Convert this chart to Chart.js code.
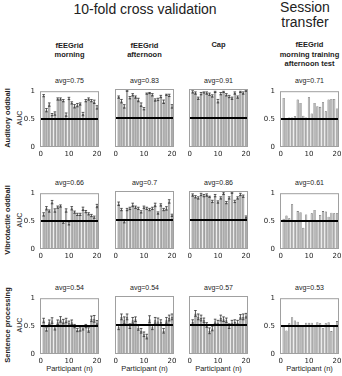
<!DOCTYPE html>
<html>
<head>
<meta charset="utf-8">
<script src="https://cdn.jsdelivr.net/npm/chart.js@4.4.0/dist/chart.umd.min.js"></script>
<style>
  body { margin: 0; background: #fff; width: 342px; height: 376px; position: relative; overflow: hidden;
         font-family: "Liberation Sans", Arial, sans-serif; color: #222; }
  .t { position: absolute; white-space: pre; text-align: center; line-height: 1.15; transform: translate(-50%, -50%); }
  .rot { transform: translate(-50%, -50%) rotate(-90deg); }
  canvas { position: absolute; }
</style>
</head>
<body>
<script>
// ── Data ───────────────────────────────────────────────────────────────────

const participants = [1, 2, 3, 4, 5, 6, 7, 8, 9, 10, 11, 12, 13, 14, 15, 16, 17, 18, 19, 20];
const xTicks = [0, 10, 20];
const yTicks = [0, 0.5, 1];
const chance = 0.5;

const columnTitles = ["fEEGrid\nmorning", "fEEGrid\nafternoon", "Cap", "fEEGrid\nmorning training\nafternoon test"];
const rowTitles = ["Auditory oddball", "Vibrotactile oddball", "Sentence processing"];

const avgAuditory     = [0.75, 0.83, 0.91, 0.71];
const avgVibrotactile = [0.66, 0.7, 0.86, 0.61];
const avgSentence     = [0.54, 0.54, 0.57, 0.53];

// Auditory oddball
const audMorning      = [0.92, 0.66, 0.76, 0.58, 0.60, 0.86, 0.86, 0.83, 0.58, 0.87, 0.79, 0.73, 0.75, 0.77, 0.59, 0.83, 0.86, 0.83, 0.81, 0.71];
const audMorningErr   = [0.02, 0.03, 0.03, 0.02, 0.03, 0.02, 0.02, 0.02, 0.03, 0.02, 0.02, 0.03, 0.03, 0.02, 0.03, 0.02, 0.02, 0.02, 0.03, 0.03];
const audAfternoon    = [0.86, 0.79, 0.70, 0.97, 0.85, 0.90, 0.86, 0.81, 0.73, 0.66, 0.92, 0.93, 0.90, 0.81, 0.82, 0.87, 0.78, 0.90, 0.89, 0.70];
const audAfternoonErr = [0.02, 0.03, 0.03, 0.01, 0.02, 0.02, 0.02, 0.03, 0.03, 0.02, 0.01, 0.01, 0.02, 0.02, 0.02, 0.02, 0.03, 0.01, 0.02, 0.03];
const audCap          = [0.95, 0.93, 0.84, 0.92, 0.94, 0.93, 0.91, 0.88, 0.95, 0.79, 0.92, 0.95, 0.90, 0.87, 0.84, 0.93, 0.86, 0.95, 0.93, 0.97];
const audCapErr       = [0.02, 0.02, 0.02, 0.02, 0.01, 0.02, 0.02, 0.02, 0.01, 0.03, 0.02, 0.01, 0.02, 0.02, 0.02, 0.02, 0.02, 0.01, 0.02, 0.01];
const audTransfer     = [0.88, 0.49, 0.53, 0.53, 0.55, 0.85, 0.79, 0.56, 0.53, 0.89, 0.60, 0.79, 0.73, 0.72, 0.80, 0.64, 0.85, 0.86, 0.86, 0.69];

// Vibrotactile oddball
const vibMorning      = [0.62, 0.73, 0.68, 0.84, 0.69, 0.75, 0.77, 0.48, 0.69, 0.45, 0.73, 0.66, 0.62, 0.62, 0.72, 0.67, 0.63, 0.60, 0.57, 0.77];
const vibMorningErr   = [0.03, 0.03, 0.02, 0.03, 0.03, 0.02, 0.02, 0.02, 0.03, 0.02, 0.03, 0.02, 0.02, 0.02, 0.03, 0.02, 0.02, 0.02, 0.02, 0.03];
const vibAfternoon    = [0.78, 0.68, 0.48, 0.68, 0.70, 0.76, 0.72, 0.70, 0.64, 0.72, 0.70, 0.68, 0.70, 0.76, 0.62, 0.76, 0.68, 0.70, 0.82, 0.58];
const vibAfternoonErr = [0.03, 0.02, 0.03, 0.02, 0.02, 0.03, 0.02, 0.02, 0.02, 0.02, 0.02, 0.02, 0.02, 0.03, 0.02, 0.02, 0.02, 0.03, 0.03, 0.02];
const vibCap          = [0.93, 0.90, 0.88, 0.94, 0.92, 0.93, 0.90, 0.82, 0.92, 0.81, 0.88, 0.96, 0.80, 0.88, 0.97, 0.82, 0.88, 0.94, 0.91, 0.55];
const vibCapErr       = [0.02, 0.02, 0.02, 0.02, 0.02, 0.02, 0.01, 0.02, 0.02, 0.02, 0.02, 0.02, 0.02, 0.02, 0.01, 0.02, 0.02, 0.02, 0.02, 0.02];
const vibTransfer     = [0.54, 0.60, 0.55, 0.80, 0.51, 0.68, 0.66, 0.38, 0.62, 0.51, 0.64, 0.70, 0.50, 0.61, 0.68, 0.67, 0.58, 0.65, 0.64, 0.64];

// Sentence processing
const senMorning      = [0.60, 0.44, 0.57, 0.60, 0.46, 0.57, 0.62, 0.58, 0.60, 0.55, 0.57, 0.50, 0.43, 0.44, 0.47, 0.50, 0.43, 0.63, 0.63, 0.56];
const senMorningErr   = [0.04, 0.03, 0.04, 0.05, 0.03, 0.04, 0.05, 0.04, 0.04, 0.04, 0.04, 0.03, 0.03, 0.03, 0.04, 0.03, 0.04, 0.05, 0.06, 0.04];
const senAfternoon    = [0.46, 0.64, 0.58, 0.64, 0.48, 0.58, 0.60, 0.45, 0.40, 0.34, 0.30, 0.60, 0.46, 0.58, 0.56, 0.55, 0.40, 0.58, 0.62, 0.64];
const senAfternoonErr = [0.04, 0.05, 0.06, 0.05, 0.04, 0.05, 0.04, 0.04, 0.04, 0.04, 0.04, 0.06, 0.04, 0.05, 0.06, 0.04, 0.04, 0.05, 0.05, 0.05];
const senCap          = [0.55, 0.70, 0.64, 0.62, 0.58, 0.50, 0.40, 0.44, 0.56, 0.54, 0.62, 0.60, 0.58, 0.48, 0.54, 0.55, 0.54, 0.64, 0.64, 0.66];
const senCapErr       = [0.04, 0.05, 0.05, 0.05, 0.04, 0.04, 0.05, 0.04, 0.04, 0.04, 0.05, 0.04, 0.04, 0.04, 0.04, 0.04, 0.04, 0.04, 0.05, 0.04];
const senTransfer     = [0.50, 0.42, 0.55, 0.66, 0.60, 0.58, 0.50, 0.50, 0.56, 0.56, 0.56, 0.50, 0.57, 0.55, 0.46, 0.55, 0.57, 0.41, 0.50, 0.59];

const panels = [
  [[audMorning, audMorningErr], [audAfternoon, audAfternoonErr], [audCap, audCapErr], [audTransfer, null]],
  [[vibMorning, vibMorningErr], [vibAfternoon, vibAfternoonErr], [vibCap, vibCapErr], [vibTransfer, null]],
  [[senMorning, senMorningErr], [senAfternoon, senAfternoonErr], [senCap, senCapErr], [senTransfer, null]],
];
const avgs = [avgAuditory, avgVibrotactile, avgSentence];

// ── Layout ─────────────────────────────────────────────────────────────────

const COL_X = [40, 115, 189, 280];
const ROW_Y = [89, 191, 296];
const PW = 59, PH = 58;
const L = 22, T = 7, R = 8, B = 14;

function label(text, x, y, css, rotate) {
  const el = document.createElement("div");
  el.className = "t" + (rotate ? " rot" : "");
  el.textContent = text;
  el.style.cssText += `left:${x}px;top:${y}px;${css}`;
  document.body.appendChild(el);
}

label("10-fold cross validation", 145, 9, "font-size:14px;");
label("Session\ntransfer", 305, 15, "font-size:14px;line-height:15px;");

columnTitles.forEach((t, c) => {
  const lines = t.split("\n").length;
  label(t, COL_X[c] + PW / 2, 45 + (lines - 1) * 4.5, "font-size:7.5px;font-weight:bold;line-height:9.5px;");
});
rowTitles.forEach((t, r) => {
  label(t, 8, ROW_Y[r] + PH / 2, "font-size:7.5px;font-weight:bold;", true);
  label("AUC", 20, ROW_Y[r] + PH / 2, "font-size:7px;", true);
  avgs[r].forEach((v, c) => {
    label("avg=" + v, COL_X[c] + PW / 2, ROW_Y[r] - 8, "font-size:7px;");
  });
});
COL_X.forEach(x => label("Participant (n)", x + PW / 2, 369, "font-size:7.5px;"));

// ── Panel drawing ──────────────────────────────────────────────────────────

const decor = {
  id: "decor",
  afterDatasetsDraw(chart) {
    const { ctx, chartArea: a, scales: { x, y } } = chart;
    const errs = chart.options.plugins.decor.errs;
    ctx.save();
    if (errs) {
      const meta = chart.getDatasetMeta(0);
      const vals = chart.data.datasets[0].data;
      ctx.strokeStyle = "#333";
      ctx.lineWidth = 0.8;
      meta.data.forEach((bar, i) => {
        const v = vals[i].y, e = errs[i];
        const y1 = y.getPixelForValue(v - e), y2 = y.getPixelForValue(v + e);
        ctx.beginPath();
        ctx.moveTo(bar.x, y1); ctx.lineTo(bar.x, y2);
        ctx.moveTo(bar.x - 1.3, y1); ctx.lineTo(bar.x + 1.3, y1);
        ctx.moveTo(bar.x - 1.3, y2); ctx.lineTo(bar.x + 1.3, y2);
        ctx.stroke();
      });
    }
    const yc = y.getPixelForValue(chance);
    ctx.strokeStyle = "#000";
    ctx.lineWidth = 2;
    ctx.beginPath();
    ctx.moveTo(a.left, yc); ctx.lineTo(a.right, yc);
    ctx.stroke();
    ctx.strokeStyle = "#a0a0a0";
    ctx.lineWidth = 1;
    ctx.strokeRect(a.left + 0.5, a.top + 0.5, a.right - a.left - 1, a.bottom - a.top - 1);
    ctx.restore();
  },
};

function panel(r, c) {
  const [values, errs] = panels[r][c];
  const showY = c === 0 || c === 3;
  const w = L + PW + R, h = T + PH + B;
  const cv = document.createElement("canvas");
  cv.width = w; cv.height = h;
  cv.style.left = (COL_X[c] - L) + "px";
  cv.style.top = (ROW_Y[r] - T) + "px";
  document.body.appendChild(cv);

  const tickFont = { family: "'DejaVu Sans', sans-serif", size: 7 };
  new Chart(cv, {
    type: "bar",
    data: {
      datasets: [{
        data: participants.map((p, i) => ({ x: p, y: values[i] })),
        backgroundColor: errs ? "#a8a8a8" : "#b8b8b8",
        borderColor: "#555",
        borderWidth: 0.6,
        barPercentage: 0.8,
        categoryPercentage: 1,
      }],
    },
    options: {
      responsive: false,
      animation: false,
      layout: { padding: { top: T, right: R, left: 0, bottom: 0 } },
      plugins: { legend: { display: false }, tooltip: { enabled: false }, decor: { errs } },
      scales: {
        x: {
          type: "linear", min: -0.3, max: 20.7, offset: false,
          grid: { display: false, drawTicks: false }, border: { display: false },
          afterBuildTicks: s => { s.ticks = xTicks.map(v => ({ value: v })); },
          afterFit: s => { s.height = B; },
          ticks: { font: tickFont, color: "#222", padding: 3, maxRotation: 0, autoSkip: false, callback: v => String(v) },
        },
        y: {
          min: 0, max: 1,
          grid: { display: false, drawTicks: false }, border: { display: false },
          afterBuildTicks: s => { s.ticks = yTicks.map(v => ({ value: v })); },
          afterFit: s => { s.width = L; },
          ticks: { display: showY, font: tickFont, color: "#222", padding: 5, callback: v => String(v) },
        },
      },
    },
    plugins: [decor],
  });
}

for (let r = 0; r < 3; r++) for (let c = 0; c < 4; c++) panel(r, c);
</script>
</body>
</html>
